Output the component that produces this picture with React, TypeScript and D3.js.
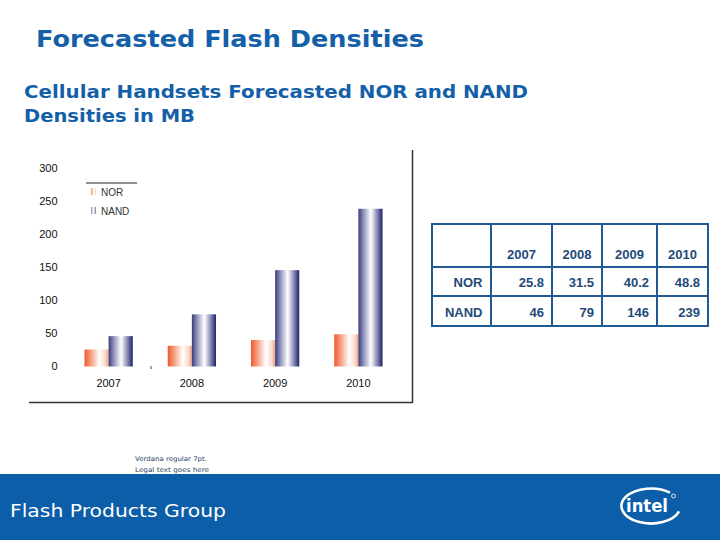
import React from 'react';
import * as d3 from 'd3';

const years = ['2007', '2008', '2009', '2010'];
const seriesNames = ['NOR', 'NAND'];
const norValues = [25.8, 31.5, 40.2, 48.8];
const nandValues = [46, 79, 146, 239];
const yTicks = [0, 50, 100, 150, 200, 250, 300];
const tableNor = ['25.8', '31.5', '40.2', '48.8'];
const tableNand = ['46', '79', '146', '239'];

const titleText = 'Forecasted Flash Densities';
const subtitleLines = ['Cellular Handsets Forecasted NOR and NAND', 'Densities in MB'];
const legalLines = ['Verdana regular 7pt.', 'Legal text goes here'];
const footerText = 'Flash Products Group';

const BLUE = '#1460a8';

export default function App() {
  const y = d3.scaleLinear().domain([0, 300]).range([366.5, 168.5]);
  const x0 = d3.scaleBand<string>().domain(years).range([67, 400]).paddingInner(0.42).paddingOuter(0.21);
  const x1 = d3.scaleBand<string>().domain(seriesNames).range([0, x0.bandwidth()]);
  const seriesValues: Record<string, number[]> = { NOR: norValues, NAND: nandValues };
  const fills: Record<string, string> = { NOR: 'url(#gNor)', NAND: 'url(#gNand)' };

  const colEdges = [432, 491, 552, 602, 657, 708];
  const rowEdges = [224, 267, 296, 326];
  const tableRows = [
    { label: 'NOR', vals: tableNor },
    { label: 'NAND', vals: tableNand },
  ];

  const cx = 651, cy = 506, rx = 29.5, ry = 17.5;
  const a0 = (-50 * Math.PI) / 180;
  const a1 = (18 * Math.PI) / 180;
  const swoosh = `M ${cx + rx * Math.cos(a0)} ${cy + ry * Math.sin(a0)} A ${rx} ${ry} 0 1 0 ${cx + rx * Math.cos(a1)} ${cy + ry * Math.sin(a1)}`;

  return (
    <svg width={720} height={540} style={{ position: 'absolute', left: 0, top: 0, background: '#fff' }}
      fontFamily="'Liberation Sans', Arial, sans-serif">
      <defs>
        <linearGradient id="gNor" x1="0" x2="1" y1="0" y2="0">
          <stop offset="0%" stopColor="#ee5a2c" />
          <stop offset="25%" stopColor="#f59a7c" />
          <stop offset="62%" stopColor="#ffffff" />
          <stop offset="85%" stopColor="#fbdccf" />
          <stop offset="100%" stopColor="#f3a184" />
        </linearGradient>
        <linearGradient id="gNand" x1="0" x2="1" y1="0" y2="0">
          <stop offset="0%" stopColor="#3a3d78" />
          <stop offset="20%" stopColor="#8a8db8" />
          <stop offset="52%" stopColor="#ffffff" />
          <stop offset="80%" stopColor="#7c80ae" />
          <stop offset="100%" stopColor="#1e2164" />
        </linearGradient>
      </defs>

      {/* Titles */}
      <text x={36} y={47} fill={BLUE} fontFamily="'DejaVu Sans', Verdana, sans-serif" fontWeight="bold"
        fontSize={23} textLength={388} lengthAdjust="spacingAndGlyphs">{titleText}</text>
      {subtitleLines.map((t, i) => (
        <text key={t} x={24} y={98 + i * 23.5} fill={BLUE} fontFamily="'DejaVu Sans', Verdana, sans-serif"
          fontWeight="bold" fontSize={17.5} textLength={i === 0 ? 504 : 171} lengthAdjust="spacingAndGlyphs">{t}</text>
      ))}

      {/* Chart frame */}
      <line x1={412.5} x2={412.5} y1={150} y2={403} stroke="#333" strokeWidth={1.5} />
      <line x1={29} x2={413} y1={402.5} y2={402.5} stroke="#333" strokeWidth={1.5} />

      {/* Y axis labels */}
      {yTicks.map((t) => (
        <text key={t} x={57.5} y={y(t)} dy="0.35em" textAnchor="end" fontSize={11} fill="#111">{t}</text>
      ))}

      {/* Bars */}
      {years.map((yr, i) => (
        <g key={yr} transform={`translate(${x0(yr)},0)`}>
          {seriesNames.map((s) => (
            <rect key={s} x={x1(s)} width={x1.bandwidth()} y={y(seriesValues[s][i])}
              height={y(0) - y(seriesValues[s][i])} fill={fills[s]} />
          ))}
        </g>
      ))}
      {years.map((yr) => (
        <text key={yr} x={(x0(yr) as number) + x0.bandwidth() / 2} y={387} textAnchor="middle" fontSize={11} fill="#111">{yr}</text>
      ))}
      <line x1={151} x2={151} y1={366} y2={369} stroke="#444" strokeWidth={1} />

      {/* Legend */}
      <line x1={86} x2={137} y1={183} y2={183} stroke="#222" strokeWidth={1} />
      {seriesNames.map((s, i) => (
        <g key={s}>
          <rect x={91} y={188 + i * 19} width={5} height={7} fill={fills[s]} opacity={0.6} />
          <text x={101} y={195.5 + i * 19} fontSize={10} fill="#333">{s}</text>
        </g>
      ))}

      {/* Table */}
      <g fontWeight="bold" fontSize={13} fill="#1f4a7a">
        {colEdges.map((cxp) => (
          <line key={'c' + cxp} x1={cxp} x2={cxp} y1={rowEdges[0]} y2={rowEdges[rowEdges.length - 1]} stroke="#1f5a92" strokeWidth={2} />
        ))}
        {rowEdges.map((ry2) => (
          <line key={'r' + ry2} x1={colEdges[0] - 1} x2={colEdges[colEdges.length - 1] + 1} y1={ry2} y2={ry2} stroke="#1f5a92" strokeWidth={2} />
        ))}
        {years.map((yr, j) => (
          <text key={yr} x={(colEdges[j + 1] + colEdges[j + 2]) / 2} y={258.5} textAnchor="middle">{yr}</text>
        ))}
        {tableRows.map((row, r) => (
          <g key={row.label}>
            <text x={colEdges[1] - 8.5} y={286.5 + r * 30} textAnchor="end">{row.label}</text>
            {row.vals.map((v, j) => (
              <text key={j} x={colEdges[j + 2] - 8} y={286.5 + r * 30} textAnchor="end">{v}</text>
            ))}
          </g>
        ))}
      </g>

      {/* Legal text */}
      {legalLines.map((t, i) => (
        <text key={t} x={135} y={461 + i * 10.5} fontSize={6.5} fill="#2a3f66"
          fontFamily="'DejaVu Sans', Verdana, sans-serif" textLength={i === 0 ? 72 : 74} lengthAdjust="spacingAndGlyphs">{t}</text>
      ))}

      {/* Footer */}
      <rect x={0} y={474} width={720} height={66} fill="#0c5ea9" />
      <text x={10} y={517} fill="#fff" fontFamily="'DejaVu Sans', Verdana, sans-serif" fontSize={17.5}
        textLength={216} lengthAdjust="spacingAndGlyphs">{footerText}</text>

      {/* Intel logo */}
      <path d={swoosh} fill="none" stroke="#fff" strokeWidth={2.6} />
      <text x={626} y={512} fill="#fff" fontFamily="'DejaVu Sans', Verdana, sans-serif" fontWeight="bold"
        fontSize={18} textLength={42} lengthAdjust="spacingAndGlyphs">intel</text>
      <circle cx={673.5} cy={496} r={2} fill="none" stroke="#fff" strokeWidth={0.8} />
    </svg>
  );
}
